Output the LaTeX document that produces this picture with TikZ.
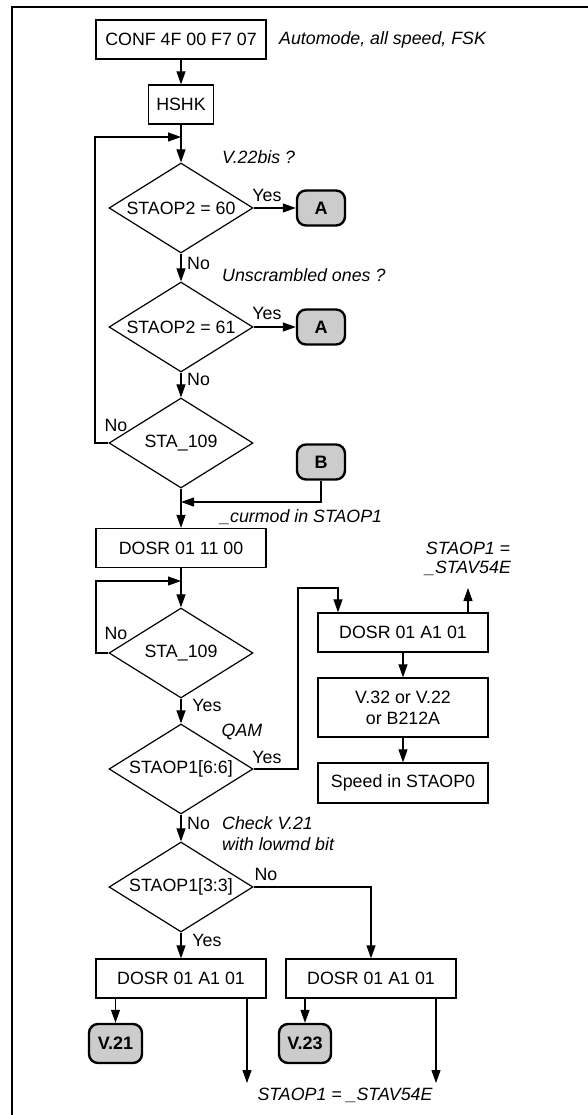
\documentclass[tikz,border=0pt]{standalone}
\usepackage{fontspec}
\setmainfont{Liberation Sans}
\usetikzlibrary{shapes.geometric,arrows.meta}
\begin{document}
\begin{tikzpicture}[x=1pt,y=-1pt,
  every node/.style={font=\fontsize{17.8}{21}\selectfont},
  box/.style={draw, line width=1.3pt, minimum width=170pt, minimum height=39pt, inner sep=0pt},
  dec/.style={draw, diamond, aspect=1.6, line width=1.2pt, minimum width=144pt, minimum height=90pt, inner sep=0pt},
  term/.style={draw, rounded corners=9pt, line width=2.4pt, fill=black!20, minimum width=48pt, minimum height=35pt, font=\bfseries\fontsize{18}{20}\selectfont, inner sep=0pt},
  conn/.style={line width=1.1pt, -{Triangle[length=13pt,width=9pt]}},
  note/.style={font=\itshape\fontsize{17.8}{20}\selectfont, inner sep=0pt},
  lab/.style={inner sep=0pt}
]
\useasboundingbox (0,0) rectangle (587,1115);
\draw[line width=1.5pt] (12,1120) -- (12,7) -- (590,7);

% nodes
\node[box] (conf) at (181,39.5) {CONF 4F 00 F7 07};
\node[note, anchor=west] (n1) at (279,39.5) {Automode, all speed, FSK};
\node[box, minimum width=65pt] (hshk) at (181,104.5) {HSHK};
\node[dec] (d1) at (181,208) {STAOP2 = 60};
\node[term] (a1) at (321,208) {A};
\node[dec] (d2) at (181,327) {STAOP2 = 61};
\node[term] (a2) at (321,327) {A};
\node[dec] (d3) at (181,443) {STA\_109};
\node[term] (b) at (321,462) {B};
\node[box] (dosr1) at (181,548) {DOSR 01 11 00};
\node[dec] (d4) at (181,653) {STA\_109};
\node[dec] (d5) at (181,769) {STAOP1[6:6]};
\node[box] (dosrR) at (403,632.5) {DOSR 01 A1 01};
\node[box, minimum height=59pt, align=center] (v32) at (403,707.5) {V.32 or V.22\\or B212A};
\node[box, minimum height=40pt] (speed) at (403,783) {Speed in STAOP0};
\node[dec] (d6) at (181,887) {STAOP1[3:3]};
\node[box] (dosrL) at (181,978.5) {DOSR 01 A1 01};
\node[box] (dosrR2) at (371,978.5) {DOSR 01 A1 01};
\node[term, minimum width=53pt, minimum height=39pt] (v21) at (115.5,1043.5) {V.21};
\node[term, minimum width=52pt, minimum height=39pt] (v23) at (305,1043.5) {V.23};

% labels
\node[note, anchor=west] (q1) at (222,157) {V.22bis ?};
\node[lab] (y1) at (267,195) {Yes};
\node[lab, anchor=west] (no1) at (187,263) {No};
\node[note, anchor=west] (q2) at (222,275) {Unscrambled ones ?};
\node[lab] (y2) at (267,313) {Yes};
\node[lab, anchor=west] (no2) at (187,379) {No};
\node[lab] (no3) at (116,425) {No};
\node[note, anchor=west] (cm) at (220,517) {\_curmod in STAOP1};
\node[lab] (no4) at (116,633) {No};
\node[lab] (y3) at (207,705) {Yes};
\node[note] (qam) at (242,732) {QAM};
\node[lab] (y4) at (267,757) {Yes};
\node[lab, anchor=west] (no5) at (187,823) {No};
\node[note, anchor=west, align=left, font=\itshape\fontsize{17.8}{21}\selectfont] (chk) at (222,833.5) {Check V.21\\with lowmd bit};
\node[lab] (no6) at (266,874) {No};
\node[lab] (y5) at (207,940) {Yes};
\node[note, align=center, font=\itshape\fontsize{17.8}{19.5}\selectfont] (st1) at (468,559) {STAOP1 =\\\_STAV54E};
\node[note] (st2) at (345,1095) {STAOP1 = \_STAV54E};

% connectors
\coordinate (j1) at (181,137);
\coordinate (lp1) at (95,137);
\coordinate (m1) at (181,502);
\coordinate (j2) at (181,581);
\coordinate (lp2) at (96,581);
\coordinate (r1) at (298,588);
\coordinate (r2) at (338,588);
\coordinate (up) at (468,588);
\coordinate (e1) at (247,1083);
\coordinate (e2) at (436,1083);

\draw[conn] (conf) -- (hshk);
\draw[conn] (hshk) -- (d1);
\draw[conn] (d3.west) -| (lp1) -- (j1);
\draw[conn] (d1) -- (a1);
\draw[conn] (d1) -- (d2);
\draw[conn] (d2) -- (a2);
\draw[conn] (d2) -- (d3);
\draw[conn] (b.south) |- (m1);
\draw[conn] (d3) -- (dosr1);
\draw[conn] (dosr1) -- (d4);
\draw[conn] (d4.west) -| (lp2) -- (j2);
\draw[conn] (d4) -- (d5);
\draw[conn] (d5.east) -| (r1) -- (r2) -- (r2 |- dosrR.north);
\draw[conn] (up |- dosrR.north) -- (up);
\draw[conn] (dosrR) -- (v32);
\draw[conn] (v32) -- (speed);
\draw[conn] (d5) -- (d6);
\draw[conn] (d6.east) -| (dosrR2.north);
\draw[conn] (d6) -- (dosrL);
\draw[conn] (dosrL.south -| v21.north) -- (v21.north);
\draw[conn] (e1 |- dosrL.south) -- (e1);
\draw[conn] (dosrR2.south -| v23.north) -- (v23.north);
\draw[conn] (e2 |- dosrR2.south) -- (e2);
\end{tikzpicture}
\end{document}
